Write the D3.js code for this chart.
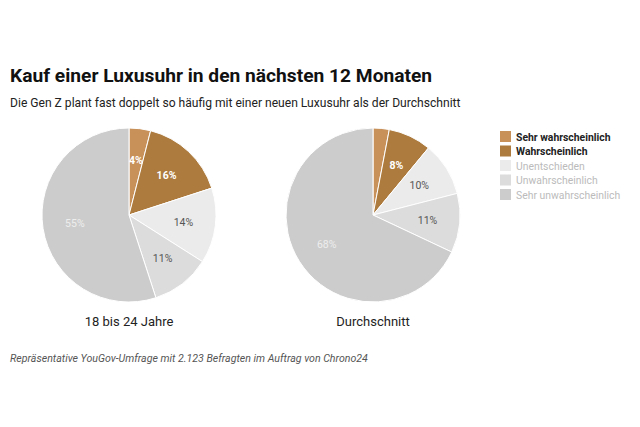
<!DOCTYPE html>
<html><head><meta charset="utf-8">
<script src="https://cdn.jsdelivr.net/npm/d3@7"></script>
<style>body{margin:0;background:#fff;font-family:Roboto,sans-serif}</style>
</head><body>
<svg id="c" width="640" height="427"></svg>
<script>
const categories = ["Sehr wahrscheinlich","Wahrscheinlich","Unentschieden","Unwahrscheinlich","Sehr unwahrscheinlich"];
const genZValues = [4,16,14,11,55];
const avgValues = [3,8,10,11,68];
const groupLabels = ["18 bis 24 Jahre","Durchschnitt"];
const colors = ["#c8915a","#ad7b3e","#ebebeb","#dcdcdc","#cccccc"];
const labelColors = ["#fff","#fff","#555","#555","#eee"];
const labelBold = [true,true,false,false,false];
const legendColors = ["#222","#222","#bbb","#bbb","#bbb"];

const svg = d3.select("#c");
svg.append("text").attr("x",10).attr("y",82).attr("font-size",19.2).attr("font-weight","bold").attr("fill","#111").text("Kauf einer Luxusuhr in den nächsten 12 Monaten");
svg.append("text").attr("x",10).attr("y",107).attr("font-size",12.1).attr("fill","#222").text("Die Gen Z plant fast doppelt so häufig mit einer neuen Luxusuhr als der Durchschnitt");

const R = 87;
const pie = d3.pie().sort(null).value(d=>d);
const arc = d3.arc().innerRadius(0).outerRadius(R);
const labelArc = d3.arc().innerRadius(R*0.63).outerRadius(R*0.63);
const centers = [129,373];
[genZValues, avgValues].forEach((vals,i)=>{
  const g = svg.append("g").attr("transform",`translate(${centers[i]},215)`);
  const arcs = pie(vals);
  g.selectAll("path").data(arcs).join("path").attr("d",arc)
    .attr("fill",(d,j)=>colors[j]).attr("stroke","#fff").attr("stroke-width",1);
  g.selectAll("text").data(arcs.filter(d=>d.data>=4)).join("text")
    .attr("transform",d=>`translate(${labelArc.centroid(d)})`)
    .attr("text-anchor","middle").attr("dy","0.35em").attr("font-size",10.5)
    .attr("font-weight",d=>labelBold[d.index]?"bold":"normal")
    .attr("fill",d=>labelColors[d.index]).text(d=>d.data+"%");
  svg.append("text").attr("x",centers[i]).attr("y",326).attr("text-anchor","middle")
    .attr("font-size",13).attr("fill","#222").text(groupLabels[i]);
});

const lg = svg.append("g").attr("transform","translate(500,131)");
categories.forEach((c,i)=>{
  lg.append("rect").attr("x",0).attr("y",i*14.5).attr("width",11).attr("height",11).attr("fill",colors[i]);
  lg.append("text").attr("x",16).attr("y",i*14.5+9.5).attr("font-size",10.4)
    .attr("font-weight",i<2?"bold":"normal").attr("fill",legendColors[i]).text(c);
});

svg.append("text").attr("x",10).attr("y",362).attr("font-size",10.6).attr("font-style","italic").attr("fill","#555")
  .text("Repräsentative YouGov-Umfrage mit 2.123 Befragten im Auftrag von Chrono24");
</script>
</body></html>
